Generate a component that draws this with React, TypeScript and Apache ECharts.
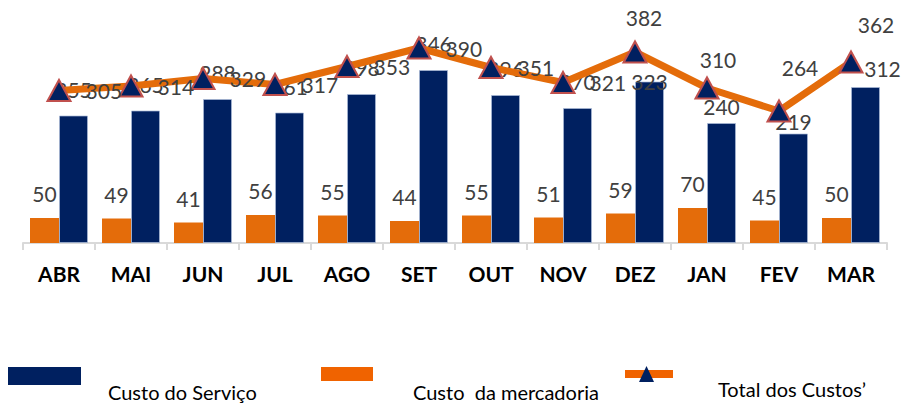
import React, { useEffect, useRef } from "react";
import * as echarts from "echarts";

const months = ["ABR", "MAI", "JUN", "JUL", "AGO", "SET", "OUT", "NOV", "DEZ", "JAN", "FEV", "MAR"];
const custoServico = [255, 265, 288, 261, 298, 346, 296, 270, 323, 240, 219, 312];
const custoMercadoria = [50, 49, 41, 56, 55, 44, 55, 51, 59, 70, 45, 50];
const totalCustos = [305, 314, 329, 317, 353, 390, 351, 321, 382, 310, 264, 362];
const legendNames = ["Custo do Serviço", "Custo  da mercadoria", "Total dos Custos’"];

const NAVY = "#002060";
const ORANGE = "#E46C0A";
const ORANGE_LEG = "#F06300";
const LABEL = "#404040";
const FONT = "Lato";

// label placement tweaks (styling only)
const totalLabelTweaks: Record<string, any> = {
  DEZ: { position: "top", distance: 13, offset: [9, 0] },
  JAN: { position: "top", distance: 7, offset: [11, 0] },
  FEV: { position: "top", distance: 22, offset: [21, 0] },
  MAR: { position: "top", distance: 16, offset: [25, 0] },
};
const servLabelTweaks: Record<string, any> = {
  DEZ: { distance: -10 },
  JAN: { distance: 6 },
  FEV: { distance: 2 },
  MAR: { distance: 8, offset: [17, 0] },
};

export default function App() {
  const ref = useRef<HTMLDivElement>(null);
  useEffect(() => {
    if (!ref.current) return;
    const chart = echarts.init(ref.current, undefined, { renderer: "svg" });
    const labelBase = { show: true, color: LABEL, fontFamily: FONT, fontSize: 21 };
    chart.setOption({
      animation: false,
      backgroundColor: "#ffffff",
      grid: { left: 23, right: 17, top: 43, bottom: 162, containLabel: false },
      xAxis: {
        type: "category",
        data: months,
        boundaryGap: true,
        axisLine: { show: true, lineStyle: { color: "#D9D9D9", width: 2 } },
        axisTick: { show: true, length: 7, lineStyle: { color: "#D9D9D9", width: 2 } },
        axisLabel: { color: "#000000", fontFamily: FONT, fontWeight: "bold", fontSize: 21, margin: 20 },
      },
      yAxis: { type: "value", min: 0, max: 400, show: false, splitLine: { show: false } },
      series: [
        {
          name: legendNames[1],
          type: "bar",
          data: custoMercadoria,
          barWidth: 29,
          barGap: "0%",
          itemStyle: { color: ORANGE },
          label: { ...labelBase, position: "top", distance: 14 },
          z: 2,
        },
        {
          name: legendNames[0],
          type: "bar",
          data: custoServico.map((v, i) => {
            const t = servLabelTweaks[months[i]];
            return t ? { value: v, label: t } : v;
          }),
          barWidth: 29,
          itemStyle: { color: NAVY, borderColor: "rgba(170,185,215,0.7)", borderWidth: 1 },
          label: { ...labelBase, position: "top", distance: 16 },
          z: 2,
        },
        {
          name: legendNames[2],
          type: "line",
          data: totalCustos.map((v, i) => {
            const t = totalLabelTweaks[months[i]];
            return t ? { value: v, label: t } : v;
          }),
          symbol: "triangle",
          symbolSize: [23, 21],
          showAllSymbol: true,
          lineStyle: { color: ORANGE, width: 7 },
          itemStyle: { color: NAVY, borderColor: "#C0504D", borderWidth: 2 },
          label: { ...labelBase, position: "right", distance: 14 },
          z: 5,
        },
      ],
      graphic: [
        { type: "rect", shape: { x: 8, y: 367, width: 73, height: 18 }, style: { fill: NAVY } },
        {
          type: "text",
          x: 108,
          y: 392,
          style: { text: legendNames[0], fill: "#000", fontFamily: FONT, fontSize: 20, verticalAlign: "middle" },
        },
        { type: "rect", shape: { x: 321, y: 367, width: 52, height: 14 }, style: { fill: ORANGE_LEG } },
        {
          type: "text",
          x: 413,
          y: 392,
          style: { text: legendNames[1], fill: "#000", fontFamily: FONT, fontSize: 20, verticalAlign: "middle" },
        },
        { type: "rect", shape: { x: 625, y: 370, width: 48, height: 8 }, style: { fill: ORANGE_LEG } },
        {
          type: "polygon",
          shape: { points: [[646.5, 366], [639, 382], [654, 382]] },
          style: { fill: NAVY },
        },
        {
          type: "text",
          x: 718,
          y: 389,
          style: { text: legendNames[2], fill: "#000", fontFamily: FONT, fontSize: 20, verticalAlign: "middle" },
        },
      ],
    });
    return () => chart.dispose();
  }, []);
  return <div ref={ref} style={{ position: "absolute", left: 0, top: 0, width: 904, height: 405 }} />;
}
